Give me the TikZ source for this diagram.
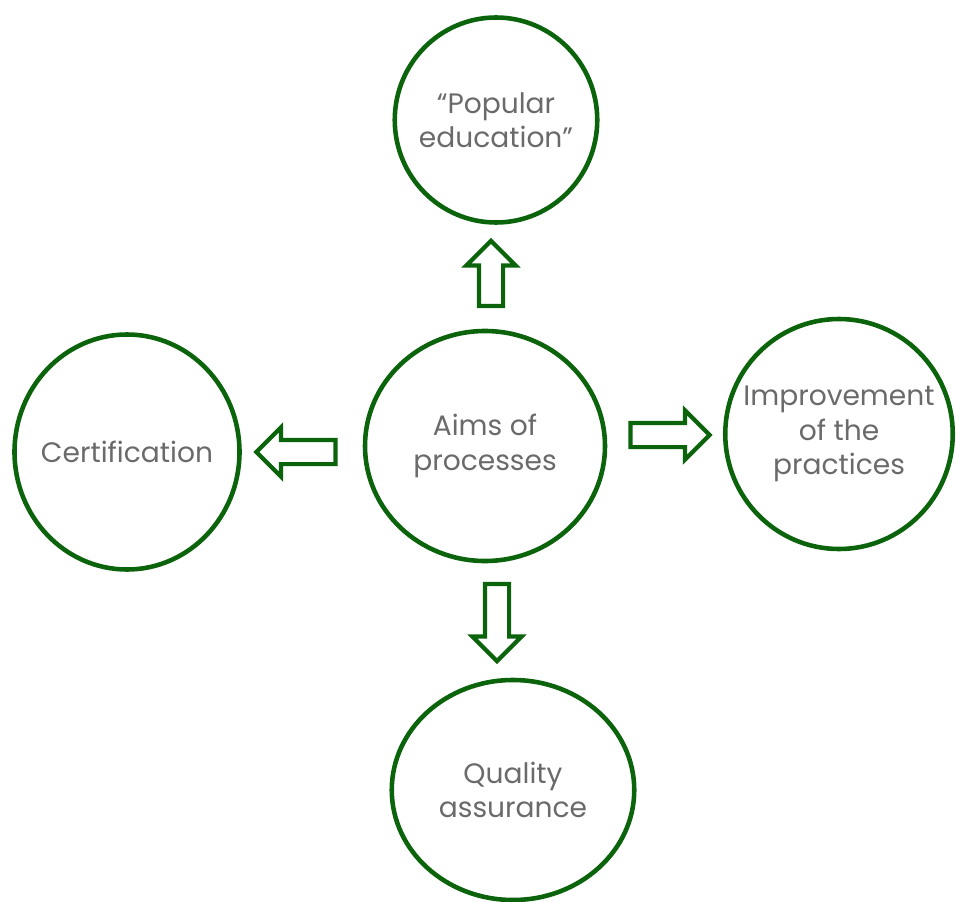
\documentclass[tikz,border=0pt]{standalone}
\usepackage{fontspec}
\setmainfont{Poppins}
\usepackage{tikz}
\usetikzlibrary{shapes.geometric,shapes.arrows}
\definecolor{leaf}{HTML}{0B640B}
\definecolor{ink}{HTML}{6A6A6A}
\begin{document}
\begin{tikzpicture}[
	aim/.style={ellipse, draw=leaf, line width=2.6pt, inner sep=-0.5cm, align=center, text=ink, font=\fontsize{16}{19.5}\selectfont},
	blockarrow/.style={single arrow, draw=leaf, fill=white, line width=2.4pt, inner xsep=0pt, inner ysep=0.2cm, single arrow head extend=0.25cm, single arrow head indent=0pt}
]
\useasboundingbox (0,0) rectangle (19.12,-18.02);
\node[aim, minimum width=4.05cm, minimum height=4.1cm] (top) at (9.92,-2.40) {“Popular\\education”};
\node[aim, minimum width=4.8cm, minimum height=4.6cm] (aims) at (9.70,-8.92) {Aims of\\processes};
\node[aim, minimum width=4.5cm, minimum height=4.7cm] (cert) at (2.54,-9.04) {Certification};
\node[aim, minimum width=4.55cm, minimum height=4.6cm] (impr) at (16.78,-8.68) {Improvement\\of the\\practices};
\node[aim, minimum width=4.85cm, minimum height=4.4cm] (qual) at (10.26,-15.80) {Quality\\assurance};
\node[blockarrow, minimum height=1.30cm, rotate=90] (up) at (9.82,-5.59) {};
\node[blockarrow, minimum height=1.58cm, rotate=180] (left) at (6.04,-9.04) {};
\node[blockarrow, minimum height=1.58cm] (right) at (13.28,-8.70) {};
\node[blockarrow, minimum height=1.54cm, rotate=-90] (down) at (9.94,-12.33) {};
\end{tikzpicture}
\end{document}
